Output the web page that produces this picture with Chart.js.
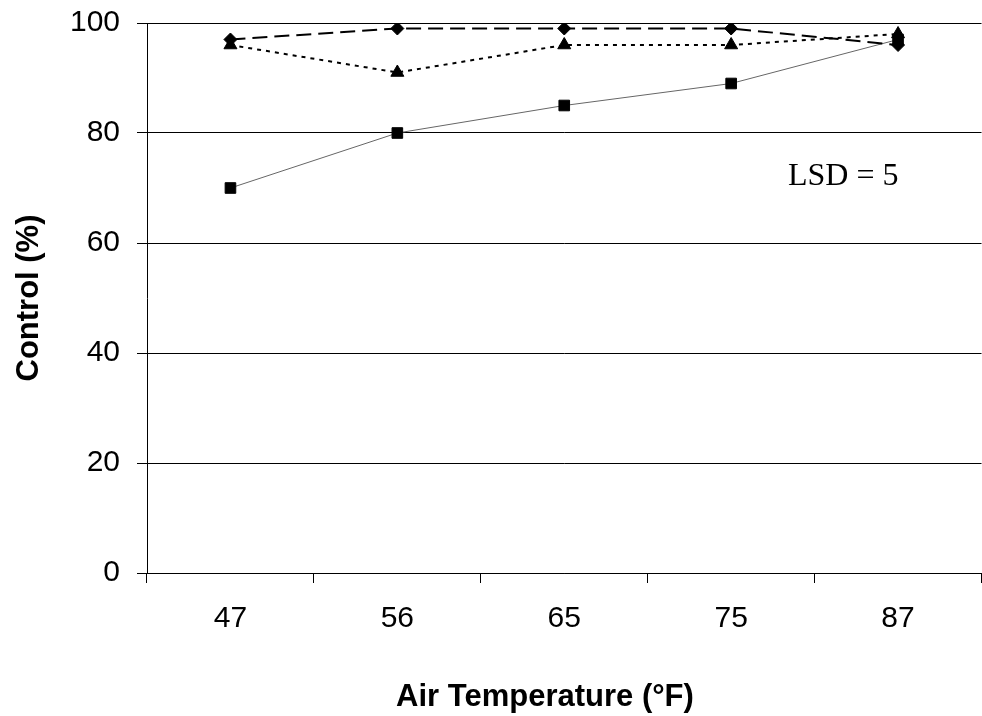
<!DOCTYPE html>
<html>
<head>
<meta charset="utf-8">
<script src="https://cdn.jsdelivr.net/npm/chart.js@4.4.0/dist/chart.umd.min.js"></script>
<style>
  html, body { margin: 0; padding: 0; background: #fff; overflow: hidden; }
  #wrap { position: relative; width: 990px; height: 716px; }
</style>
</head>
<body>
<div id="wrap"><canvas id="chart" width="990" height="716"></canvas></div>
<script>
// dados
const temperatures = ['47', '56', '65', '75', '87'];
const diamondValues = [97, 99, 99, 99, 96];
const triangleValues = [96, 91, 96, 96, 98];
const squareValues = [70, 80, 85, 89, 97];
const yMin = 0;
const yMax = 100;
const yStep = 20;

const xTitle = 'Air Temperature (°F)';
const yTitle = 'Control (%)';
const lsdNote = 'LSD = 5';

// textos extras: título do eixo x e anotação LSD
const extraText = {
    id: 'extraText',
    afterDraw(chart) {
        const ctx = chart.ctx;
        ctx.save();
        ctx.fillStyle = '#000';
        ctx.textBaseline = 'alphabetic';

        ctx.font = 'bold 31px "Liberation Sans", Arial, sans-serif';
        ctx.textAlign = 'center';
        ctx.fillText(xTitle, 545, 706);

        ctx.font = '32px "Liberation Serif", "Times New Roman", serif';
        ctx.textAlign = 'left';
        ctx.fillText(lsdNote, 788, 185);
        ctx.restore();
    }
};

const ctx = document.getElementById('chart').getContext('2d');
new Chart(ctx, {
    type: 'line',
    data: {
        labels: temperatures,
        datasets: [
            {
                label: 'diamond',
                data: diamondValues,
                borderColor: '#000',
                borderWidth: 2,
                borderDash: [15, 7],
                pointStyle: 'rectRot',
                pointRadius: 6.5,
                pointBackgroundColor: '#000',
                pointBorderColor: '#000',
                pointBorderWidth: 1,
                tension: 0
            },
            {
                label: 'triangle',
                data: triangleValues,
                borderColor: '#000',
                borderWidth: 2,
                borderDash: [4, 5],
                pointStyle: 'triangle',
                pointRadius: 7.5,
                pointBackgroundColor: '#000',
                pointBorderColor: '#000',
                pointBorderWidth: 1,
                tension: 0
            },
            {
                label: 'square',
                data: squareValues,
                borderColor: '#666',
                borderWidth: 1,
                pointStyle: 'rect',
                pointRadius: 7.5,
                pointBackgroundColor: '#000',
                pointBorderColor: '#000',
                pointBorderWidth: 1,
                tension: 0
            }
        ]
    },
    options: {
        responsive: false,
        animation: false,
        devicePixelRatio: 1,
        layout: { padding: { top: 23, left: 0, right: 0, bottom: 0 } },
        plugins: {
            legend: { display: false },
            tooltip: { enabled: false }
        },
        scales: {
            x: {
                offset: true,
                grid: {
                    offset: true,
                    drawOnChartArea: false,
                    drawTicks: true,
                    tickLength: 10,
                    color: '#000',
                    lineWidth: 1
                },
                border: { color: '#000', width: 1 },
                ticks: {
                    color: '#000',
                    padding: 18,
                    font: { family: '"Liberation Sans", Arial, sans-serif', size: 30 }
                },
                afterFit(scale) {
                    scale.height = 143;
                    scale.paddingLeft = 0;
                    scale.paddingRight = 0;
                }
            },
            y: {
                min: yMin,
                max: yMax,
                ticks: {
                    stepSize: yStep,
                    color: '#000',
                    padding: 17,
                    font: { family: '"Liberation Sans", Arial, sans-serif', size: 30 }
                },
                grid: {
                    color: '#000',
                    lineWidth: 1,
                    tickLength: 10
                },
                border: { color: '#000', width: 1 },
                title: {
                    display: true,
                    text: yTitle,
                    color: '#000',
                    padding: { top: 11, bottom: 0 },
                    font: { family: '"Liberation Sans", Arial, sans-serif', size: 31, weight: 'bold' }
                },
                afterFit(scale) {
                    scale.width = 147;
                    scale.paddingTop = 0;
                    scale.paddingBottom = 0;
                }
            }
        }
    },
    plugins: [extraText]
});
</script>
</body>
</html>
